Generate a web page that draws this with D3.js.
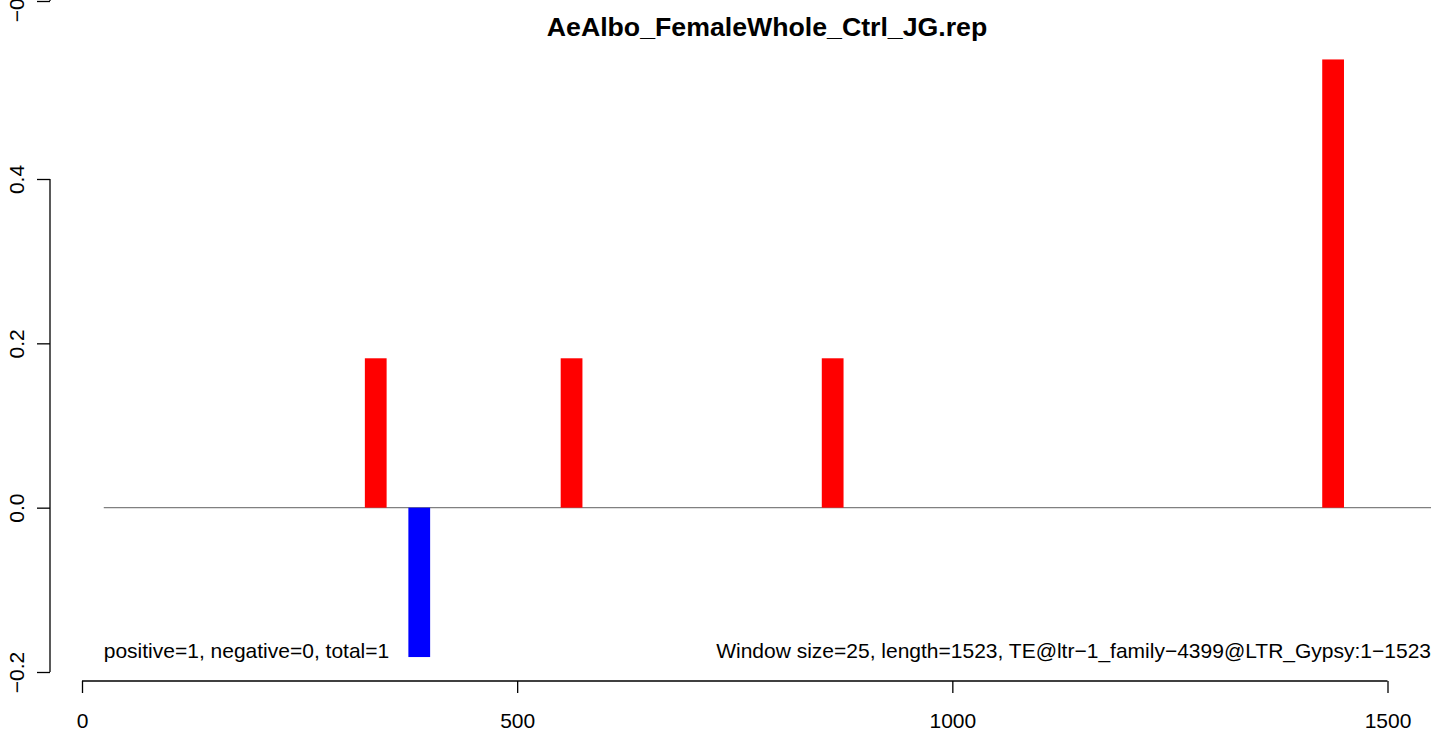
<!DOCTYPE html>
<html>
<head>
<meta charset="utf-8">
<script src="https://cdn.jsdelivr.net/npm/d3@7"></script>
<style>
  html, body { margin: 0; padding: 0; background: #fff; }
  svg { display: block; }
  text { font-family: "Liberation Sans", Arial, Helvetica, sans-serif; fill: #000; }
</style>
</head>
<body>
<svg id="chart" width="1444" height="732"></svg>
<script>
// ---- data ----
const title = "AeAlbo_FemaleWhole_Ctrl_JG.rep";
const windowSize = 25;
const binStarts = [325, 375, 550, 850, 1425];
const binValues = [0.1818, -0.1818, 0.1818, 0.1818, 0.5455];
const xTicks = [0, 500, 1000, 1500];
const yTicks = [-0.2, 0.0, 0.2, 0.4];
const prevPanelTicks = [-0.2];
const baselineRange = [25, 1550];
const leftNote = "positive=1, negative=0, total=1";
const rightNote = "Window size=25, length=1523, TE@ltr\u22121_family\u22124399@LTR_Gypsy:1\u22121523";

// ---- layout ----
const svg = d3.select("#chart");
const x = d3.scaleLinear().domain([0, 1500]).range([82, 1387.5]);
const y = d3.scaleLinear().domain([-0.2, 0.4]).range([672, 179]);
// upper (previous) panel, only its bottom tick is visible
const yPrev = d3.scaleLinear().domain([-0.2, 0.4]).range([1, -492]);
const axisX = 50;
const lw = 1.3;
const fmt = d3.format(".1f");

// baseline
svg.append("line")
  .attr("x1", x(baselineRange[0])).attr("x2", x(baselineRange[1]))
  .attr("y1", y(0)).attr("y2", y(0))
  .attr("stroke", "#808080").attr("stroke-width", lw);

// bars
svg.selectAll("rect.bar").data(binStarts.map((s, i) => ({s, v: binValues[i]})))
  .enter().append("rect")
  .attr("class", "bar")
  .attr("x", d => x(d.s))
  .attr("width", d => x(d.s + windowSize) - x(d.s))
  .attr("y", d => Math.min(y(d.v), y(0)))
  .attr("height", d => Math.abs(y(d.v) - y(0)))
  .attr("fill", d => d.v >= 0 ? "#FF0000" : "#0000FF");

// y axis
function drawYAxis(scale, ticks, lo, hi) {
  const g = svg.append("g").attr("transform", `translate(${axisX},0)`);
  const ax = d3.axisLeft(scale).tickValues(ticks).tickFormat(fmt).tickSize(13).tickSizeOuter(0);
  g.call(ax);
  g.select(".domain").remove();
  g.append("line").attr("x1", 0).attr("x2", 0)
    .attr("y1", scale(lo)).attr("y2", scale(hi))
    .attr("stroke", "#000").attr("stroke-width", lw);
  g.selectAll(".tick line").attr("stroke", "#000").attr("stroke-width", lw);
  g.selectAll(".tick text")
    .attr("x", null).attr("dy", null)
    .attr("transform", `translate(${24 - axisX},0) rotate(-90)`)
    .attr("text-anchor", "middle")
    .attr("font-size", 21)
    .attr("font-family", "Liberation Sans, Arial, sans-serif")
    .attr("fill", "#000");
}
drawYAxis(y, yTicks, -0.2, 0.4);
drawYAxis(yPrev, prevPanelTicks, -0.2, 0.4);

// x axis
const gx = svg.append("g").attr("transform", "translate(0,681)");
gx.call(d3.axisBottom(x).tickValues(xTicks).tickFormat(d3.format("d")).tickSize(12).tickSizeOuter(0));
gx.select(".domain").remove();
gx.append("line").attr("x1", x(xTicks[0])).attr("x2", x(xTicks[xTicks.length - 1]))
  .attr("y1", 0).attr("y2", 0).attr("stroke", "#000").attr("stroke-width", lw);
gx.selectAll(".tick line").attr("stroke", "#000").attr("stroke-width", lw);
gx.selectAll(".tick text")
  .attr("y", 47).attr("dy", null)
  .attr("font-size", 21)
  .attr("font-family", "Liberation Sans, Arial, sans-serif")
  .attr("fill", "#000");

// notes
svg.append("text").attr("x", x(baselineRange[0])).attr("y", 658)
  .attr("font-size", 21).text(leftNote);
svg.append("text").attr("x", x(baselineRange[1])).attr("y", 658)
  .attr("text-anchor", "end").attr("font-size", 21).text(rightNote);

// title
svg.append("text").attr("x", 767).attr("y", 36)
  .attr("text-anchor", "middle").attr("font-weight", "bold")
  .attr("font-size", 26.7).text(title);
</script>
</body>
</html>
